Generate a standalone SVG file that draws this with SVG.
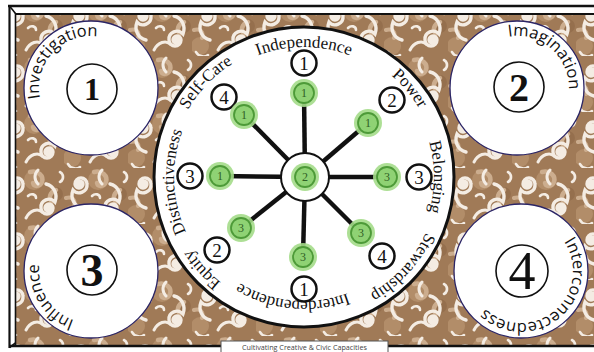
<svg xmlns="http://www.w3.org/2000/svg" width="594" height="352" viewBox="0 0 594 352">
<style>
.frame{stroke:#111;fill:none}
.corner{fill:#fff;stroke:#2b2566;stroke-width:1.3}
.inner{fill:#fff;stroke:#111;stroke-width:1.6}
.big{font-family:"Liberation Serif","Times New Roman",serif;fill:#111;text-anchor:middle}
.clabel{font-family:"Open Sans","DejaVu Sans",sans-serif;font-size:16.5px;fill:#111;text-anchor:middle}
.wlabel{font-family:"Liberation Serif","Times New Roman",serif;font-size:17px;fill:#111;text-anchor:middle}
.bn{fill:#fff;stroke:#111;stroke-width:2.5}
.bt{font-family:"Liberation Serif","Times New Roman",serif;font-size:19px;fill:#111;text-anchor:middle}
.glow{fill:#a4dc8a;opacity:.9}
.gring{fill:#8fd274;stroke:#4d9a38;stroke-width:1.8}
.gt{font-family:"Liberation Serif","Times New Roman",serif;font-size:12px;fill:#2f5f24;text-anchor:middle}
.spoke{stroke:#111;stroke-width:4.5;stroke-linecap:butt}
.sw{fill:none;stroke:#f4ece3;stroke-linecap:round}
.st{fill:none;stroke:#ccad8e;stroke-linecap:round}
</style>
<defs>
<pattern id="swirl" width="64" height="56" patternUnits="userSpaceOnUse">
<rect width="64" height="56" fill="#a07a57"/>
<circle cx="34" cy="12" r="10" fill="#b8936f" opacity=".75"/>
<circle cx="8" cy="46" r="9" fill="#b8936f" opacity=".75"/>
<circle cx="56" cy="26" r="7" fill="#8a6444" opacity=".5"/>
<path class="st" stroke-width="4.5" d="M30 4 c8 -2 14 4 12 10 c-2 5 -8 5 -9 1"/>
<path class="st" stroke-width="4.5" d="M56 22 c-6 2 -8 8 -4 12"/>
<path class="st" stroke-width="4" d="M2 30 c6 -2 10 2 8 8"/>
<path class="sw" stroke-width="3.4" d="M17 16 A1.5 1.5 0 0 1 14 16 A2.5 2.5 0 0 1 19 16 A4 4 0 0 1 11 16 A6 6 0 0 1 23 16 A8 8 0 0 1 9 22 C6 30 10 38 18 40"/>
<path class="sw" stroke-width="3.4" d="M47 40 A1.5 1.5 0 0 1 50 40 A2.5 2.5 0 0 1 45 40 A4 4 0 0 1 53 40 A6 6 0 0 1 41 40 A8 8 0 0 1 55 34 C58 26 54 18 46 16"/>
<path class="sw" stroke-width="3" d="M26 50 c4 -8 12 -10 16 -6"/>
<path class="sw" stroke-width="3" d="M38 2 c-4 4 -4 10 0 14"/>
<path class="sw" stroke-width="2.6" d="M60 4 c4 2 4 8 0 10"/>
<path class="sw" stroke-width="2.6" d="M-4 4 c4 2 4 8 0 10"/>
<path class="sw" stroke-width="2.6" d="M28 28 c3 -3 8 -2 8 2"/>
<path class="sw" stroke-width="2.6" d="M4 52 c2 4 8 6 12 3"/>
</pattern>
<path id="w130" d="M304 307 A130 130 0 1 1 304 47 A130 130 0 1 1 304 307"/>
<path id="w134" d="M304 311 A134 134 0 1 1 304 43 A134 134 0 1 1 304 311"/>
<path id="w124" d="M304 53 A124 124 0 1 1 304 301 A124 124 0 1 1 304 53"/>
<path id="c1p" d="M91 140 A52 52 0 1 1 91 36 A52 52 0 1 1 91 140"/>
<path id="c2p" d="M517 140 A52 52 0 1 1 517 36 A52 52 0 1 1 517 140"/>
<path id="c3p" d="M91 323 A52 52 0 1 1 91 219 A52 52 0 1 1 91 323"/>
<path id="c4p" d="M521 219 A52 52 0 1 1 521 323 A52 52 0 1 1 521 219"/>
</defs>

<rect width="594" height="352" fill="#fff"/>
<rect x="15" y="13" width="579" height="332" fill="url(#swirl)"/>
<g id="frame" class="frame">
<line x1="8" y1="6" x2="594" y2="6" stroke-width="2.6"/>
<line x1="15" y1="14" x2="594" y2="14" stroke-width="2"/>
<line x1="9.5" y1="5" x2="9.5" y2="348" stroke-width="2.2"/>
<line x1="15.5" y1="13" x2="15.5" y2="345" stroke-width="1.6"/>
<line x1="9" y1="346" x2="594" y2="346" stroke-width="2.6"/>
<line x1="9.5" y1="6" x2="15.5" y2="13.5" stroke-width="1.6"/>
<line x1="9.5" y1="347.5" x2="15.5" y2="343" stroke-width="1.6"/>
</g>

<g id="investigation">
<circle class="corner" cx="91" cy="88" r="67"/>
<circle class="inner" cx="92" cy="89" r="25"/>
<text class="big" x="92" y="100" font-size="32" font-weight="bold">1</text>
<text class="clabel"><textPath href="#c1p" startOffset="36.9%">Investigation</textPath></text>
</g>
<g id="imagination">
<circle class="corner" cx="517" cy="88" r="67"/>
<circle class="inner" cx="519" cy="87" r="25"/>
<text class="big" x="519" y="100.5" font-size="40" font-weight="bold">2</text>
<text class="clabel"><textPath href="#c2p" startOffset="61.4%">Imagination</textPath></text>
</g>
<g id="influence">
<circle class="corner" cx="91" cy="271" r="67"/>
<circle class="inner" cx="92" cy="270" r="25"/>
<text class="big" x="92" y="285.5" font-size="46" font-weight="bold">3</text>
<text class="clabel"><textPath href="#c3p" startOffset="16.1%">Influence</textPath></text>
</g>
<g id="interconnectedness">
<circle class="corner" cx="521" cy="271" r="67"/>
<circle class="inner" cx="522" cy="271" r="26"/>
<text class="big" x="522" y="289" font-size="54">4</text>
<text class="clabel"><textPath href="#c4p" startOffset="38.75%">Interconnectedness</textPath></text>
</g>

<g id="wheel">
<circle cx="304" cy="177" r="150" fill="#fff" stroke="#111" stroke-width="3"/>
<text class="wlabel"><textPath href="#w130" startOffset="50%">Independence</textPath></text>
<text class="wlabel"><textPath href="#w134" startOffset="63.9%">Power</textPath></text>
<text class="wlabel"><textPath href="#w130" startOffset="75%">Belonging</textPath></text>
<text class="wlabel"><textPath href="#w134" startOffset="86.8%">Stewardship</textPath></text>
<text class="wlabel"><textPath href="#w124" startOffset="51.5%">Interdependence</textPath></text>
<text class="wlabel"><textPath href="#w134" startOffset="13.3%">Equity</textPath></text>
<text class="wlabel"><textPath href="#w130" startOffset="24.4%">Distinctiveness</textPath></text>
<text class="wlabel"><textPath href="#w134" startOffset="37.2%">Self-Care</textPath></text>
</g>

<g id="connectors">
<line class="spoke" x1="305" y1="177" x2="304" y2="93"/>
<line class="spoke" x1="305" y1="177" x2="368" y2="123"/>
<line class="spoke" x1="305" y1="177" x2="387" y2="177"/>
<line class="spoke" x1="305" y1="177" x2="361" y2="233"/>
<line class="spoke" x1="305" y1="177" x2="303" y2="257"/>
<line class="spoke" x1="305" y1="177" x2="241" y2="228"/>
<line class="spoke" x1="305" y1="177" x2="220" y2="176"/>
<line class="spoke" x1="305" y1="177" x2="244" y2="115"/>
</g>

<g id="hub">
<circle cx="305" cy="177" r="24" fill="#fff" stroke="#111" stroke-width="2"/>
<circle class="glow" cx="305" cy="177" r="14"/>
<circle class="gring" cx="305" cy="177" r="10"/>
<text class="gt" x="305" y="181">2</text>
</g>

<g id="independence">
<circle class="bn" cx="304" cy="63" r="12.5"/><text class="bt" x="304" y="69.5">1</text>
<circle class="glow" cx="304" cy="93" r="14"/><circle class="gring" cx="304" cy="93" r="10"/><text class="gt" x="304" y="97">1</text>
</g>
<g id="power">
<circle class="bn" cx="392" cy="100" r="12.5"/><text class="bt" x="392" y="106.5">2</text>
<circle class="glow" cx="368" cy="123" r="14"/><circle class="gring" cx="368" cy="123" r="10"/><text class="gt" x="368" y="127">1</text>
</g>
<g id="belonging">
<circle class="bn" cx="419" cy="177" r="12.5"/><text class="bt" x="419" y="183.5">3</text>
<circle class="glow" cx="387" cy="177" r="14"/><circle class="gring" cx="387" cy="177" r="10"/><text class="gt" x="387" y="181">3</text>
</g>
<g id="stewardship">
<circle class="bn" cx="382" cy="256" r="12.5"/><text class="bt" x="382" y="262.5">4</text>
<circle class="glow" cx="361" cy="233" r="14"/><circle class="gring" cx="361" cy="233" r="10"/><text class="gt" x="361" y="237">3</text>
</g>
<g id="interdependence">
<circle class="bn" cx="304" cy="289" r="12.5"/><text class="bt" x="304" y="295.5">1</text>
<circle class="glow" cx="303" cy="257" r="14"/><circle class="gring" cx="303" cy="257" r="10"/><text class="gt" x="303" y="261">3</text>
</g>
<g id="equity">
<circle class="bn" cx="217" cy="250" r="12.5"/><text class="bt" x="217" y="256.5">2</text>
<circle class="glow" cx="241" cy="228" r="14"/><circle class="gring" cx="241" cy="228" r="10"/><text class="gt" x="241" y="232">3</text>
</g>
<g id="distinctiveness">
<circle class="bn" cx="190" cy="176" r="12.5"/><text class="bt" x="190" y="182.5">3</text>
<circle class="glow" cx="220" cy="176" r="14"/><circle class="gring" cx="220" cy="176" r="10"/><text class="gt" x="220" y="180">1</text>
</g>
<g id="self-care">
<circle class="bn" cx="224" cy="97" r="12.5"/><text class="bt" x="224" y="103.5">4</text>
<circle class="glow" cx="244" cy="115" r="14"/><circle class="gring" cx="244" cy="115" r="10"/><text class="gt" x="244" y="119">1</text>
</g>

<g id="caption">
<rect x="221" y="341" width="167" height="13" fill="#fff" stroke="#555" stroke-width="1"/>
<text x="304.5" y="349.5" font-family="Open Sans, DejaVu Sans, sans-serif" font-size="7.2" fill="#444" text-anchor="middle">Cultivating Creative &amp; Civic Capacities</text>
</g>
</svg>
